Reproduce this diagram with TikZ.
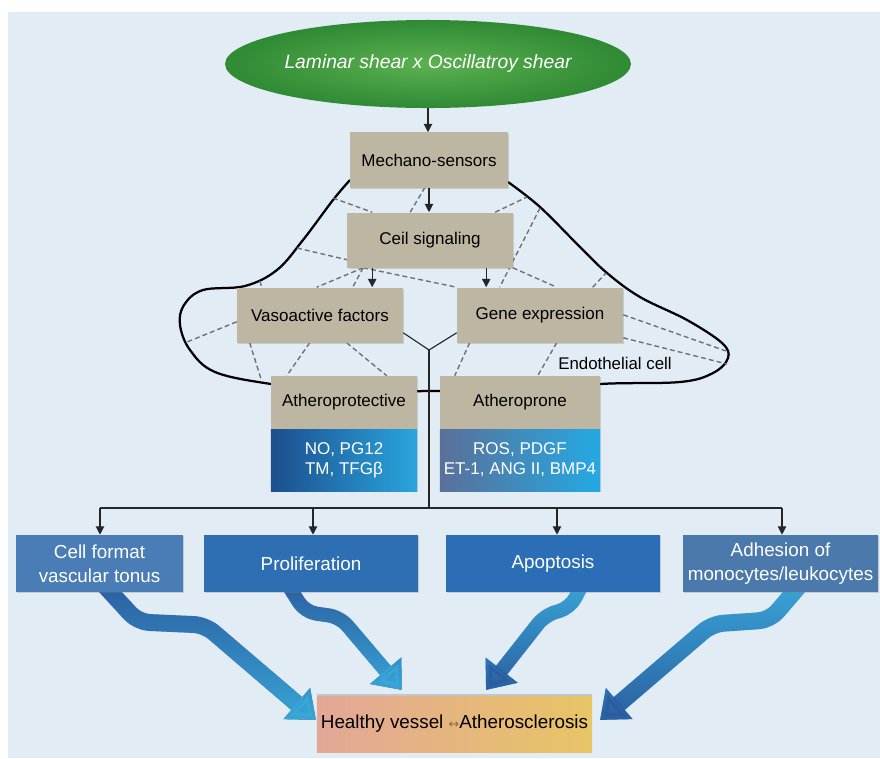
\documentclass[tikz,border=0pt]{standalone}
\usepackage{fontspec}
\setmainfont{Liberation Sans}
\newfontfamily\arrowfont{DejaVu Sans}
\usetikzlibrary{shapes.geometric,arrows.meta,calc,fadings,shadows}
\definecolor{panelblue}{HTML}{E2ECF5}
\definecolor{tanfill}{HTML}{BDB6A3}
\definecolor{greenin}{HTML}{5CB150}
\definecolor{greenout}{HTML}{2F8A34}
\definecolor{protl}{HTML}{1C4F8E}
\definecolor{protr}{HTML}{2AA5DD}
\definecolor{pronel}{HTML}{5A7099}
\definecolor{proner}{HTML}{24A9E3}
\definecolor{cellfc}{HTML}{4A7DB5}
\definecolor{prolifc}{HTML}{2E6FB3}
\definecolor{apopc}{HTML}{2C6EB6}
\definecolor{adhc}{HTML}{4B79AC}
\definecolor{vesl}{HTML}{E3A797}
\definecolor{vesr}{HTML}{E8C565}
\definecolor{arrdark}{HTML}{2B5B9E}
\definecolor{arrlight}{HTML}{39A9DA}
\definecolor{dashgray}{HTML}{6E7276}
\definecolor{arrbrown}{HTML}{9A6A40}
\pgfdeclarelayer{bottom}
\pgfdeclarelayer{lines}
\pgfsetlayers{bottom,lines,main}
\begin{document}
\begin{tikzpicture}[x=0.025cm,y=-0.025cm,
  tanbox/.style={fill=tanfill,inner sep=0pt,minimum height=1.375cm,font=\fontsize{12.1}{14}\selectfont,
    drop shadow={opacity=.3,shadow xshift=1pt,shadow yshift=-1pt}},
  datbox/.style={inner sep=0pt,minimum height=1.55cm,align=center,text=white,font=\fontsize{12.1}{14.2}\selectfont,
    drop shadow={opacity=.3,shadow xshift=1pt,shadow yshift=-1pt}},
  effbox/.style={inner sep=0pt,minimum height=1.425cm,align=center,text=white,font=\fontsize{13.4}{17}\selectfont,
    drop shadow={opacity=.3,shadow xshift=1pt,shadow yshift=-1pt}},
  arr/.style={-{Triangle[width=6pt,length=6pt]},line width=.8pt,black!85},
  dashline/.style={dashgray,line width=1pt,dash pattern=on 3.5pt off 2.2pt},
  bigarr/.style={-{Triangle[width=28pt,length=18pt]},line width=12pt,rounded corners=8pt,line join=round}]
\useasboundingbox (0,0) rectangle (880,758);
\begin{pgfonlayer}{bottom}
\fill[white] (0,0) rectangle (880,758);
\fill[panelblue] (8,12) rectangle (880,758);
\end{pgfonlayer}

\node[ellipse,shade,inner color=greenin,outer color=greenout,minimum width=8.375cm,minimum height=2.2cm,inner sep=0pt,text=white,font=\fontsize{13.7}{16}\selectfont\itshape] (shear) at (428,64) {Laminar shear x Oscillatroy shear};
\node[tanbox,minimum width=3.95cm] (mech) at (429,160) {Mechano-sensors};
\node[tanbox,minimum width=4.125cm] (sig) at (430,240) {Ceil signaling};
\node[tanbox,minimum width=4.15cm] (vaso) at (320,315) {Vasoactive factors};
\node[tanbox,minimum width=4.15cm] (gene) at (540,315) {Gene expression};
\node[tanbox,minimum width=3.65cm,minimum height=1.325cm] (prot) at (344,402.5) {Atheroprotective};
\node[datbox,left color=protl,right color=protr,minimum width=3.65cm] (protd) at (344,460) {NO, PG12\\TM, TFGβ};
\node[tanbox,minimum width=4cm,minimum height=1.325cm] (prone) at (520,402.5) {Atheroprone};
\node[datbox,left color=pronel,right color=proner,minimum width=4cm] (proned) at (520,460) {ROS, PDGF\\ET-1, ANG II, BMP4};
\node[font=\fontsize{12}{14}\selectfont] (endo) at (615,363) {Endothelial cell};

\node[effbox,fill=cellfc,minimum width=4.175cm] (cellf) at (99.5,563.5) {Cell format\\vascular tonus};
\node[effbox,fill=prolifc,minimum width=5.35cm] (prolif) at (311,563.5) {Proliferation};
\node[effbox,fill=apopc,minimum width=5.35cm] (apop) at (553,563.5) {Apoptosis};
\node[effbox,fill=adhc,minimum width=4.875cm] (adh) at (780.5,563.5) {Adhesion of\\monocytes/leukocytes};
\node[left color=vesl,right color=vesr,minimum width=6.875cm,minimum height=1.4cm,inner sep=0pt,font=\fontsize{13.4}{16}\selectfont,
  drop shadow={opacity=.35,shadow xshift=0pt,shadow yshift=1.5pt}] (vessel) at (454.5,724) {Healthy vessel {\arrowfont\fontsize{9}{10}\selectfont\color{arrbrown}↔}Atherosclerosis};

\begin{pgfonlayer}{lines}
% cell outline
\draw[line width=1.6pt] plot[smooth,tension=.6] coordinates {(350,180) (333,200) (303,240) (277,270) (245,286) (203,290) (184,305) (180,325) (190,350) (215,372) (271,384) (350,393) (429,391) (520,392) (600,384) (680,382) (713,373) (728,358) (722,343) (687,320) (640,297) (607,273) (580,247) (540,207) (508,182)};
\coordinate (o1) at (333,198);
\coordinate (o2) at (527,197);
\coordinate (o3) at (540,208);
\coordinate (o4) at (297,248);
\coordinate (o5) at (606,273);
\coordinate (o6) at (260,281);
\coordinate (o7) at (187,342);
\coordinate (o8) at (262,382);
\coordinate (o9) at (726,351);
\coordinate (o10) at (727,364);
\draw[dashline] (o1) -- ($(sig.north west)+(25,0)$);
\draw[dashline] ($(sig.north west)+(63,0)$) -- ($(mech.south west)+(75,0)$);
\draw[dashline] ($(sig.north west)+(148,0)$) -- (o2);
\draw[dashline] (o3) -- ($(gene.north west)+(43,0)$);
\draw[dashline] (o4) -- ($(sig.south west)+(0,-8)$);
\draw[dashline] ($(sig.south west)+(16,0)$) -- ($(vaso.north west)+(80,0)$);
\draw[dashline] ($(sig.south west)+(16,0)$) -- ($(vaso.north west)+(116,0)$);
\draw[dashline] ($(sig.south west)+(16,0)$) -- (gene.north west);
\draw[dashline] (sig.south east) -- ($(gene.north west)+(100,0)$);
\draw[dashline] ($(gene.north west)+(136,0)$) -- (o5);
\draw[dashline] (o6) -- ($(vaso.north west)+(25,0)$);
\draw[dashline] ($(vaso.south west)+(0,-21)$) -- (o7);
\draw[dashline] ($(vaso.south west)+(13,0)$) -- (o8);
\draw[dashline] ($(vaso.south west)+(73,0)$) -- ($(prot.north west)+(16,0)$);
\draw[dashline] ($(vaso.south west)+(110,0)$) -- ($(prot.north west)+(116,0)$);
\draw[dashline] ($(gene.south west)+(13,0)$) -- ($(prone.north west)+(15,0)$);
\draw[dashline] ($(gene.south west)+(100,0)$) -- ($(prone.north west)+(98,0)$);
\draw[dashline] ($(gene.south east)+(0,-28)$) -- (o9);
\draw[dashline] ($(gene.south east)+(0,-5)$) -- (o10);

% big arrows
\draw[bigarr,arrdark] (104,585) -- (138,622) -- (205,625) -- (316,720);
\draw[bigarr,arrlight,path fading=north] (104,585) -- (138,622) -- (205,625) -- (316,720);
\draw[bigarr,line width=10pt,arrdark] (288,585) -- (305,612) -- (340,617) -- (402,690);
\draw[bigarr,line width=10pt,arrlight,path fading=north] (288,585) -- (305,612) -- (340,617) -- (402,690);
\draw[bigarr,line width=10pt,arrlight] (582,585) -- (570,608) -- (545,615) -- (486,690);
\draw[bigarr,line width=10pt,arrdark,path fading=north] (582,585) -- (570,608) -- (545,615) -- (486,690);
\draw[bigarr,arrlight] (800,585) -- (770,620) -- (712,624) -- (600,720);
\draw[bigarr,arrdark,path fading=north] (800,585) -- (770,620) -- (712,624) -- (600,720);
\end{pgfonlayer}

\draw[arr] (shear.south) -- (shear.south |- mech.north);
\draw[arr] (mech.south) -- (mech.south |- sig.north);
\coordinate (a1) at ($(sig.south west)+(25,0)$);
\coordinate (a2) at ($(sig.south west)+(139,0)$);
\draw[arr] (a1) -- (a1 |- vaso.north);
\draw[arr] (a2) -- (a2 |- gene.north);
\coordinate (hub) at (429,350);
\draw[line width=.8pt,black!85] ($(vaso.south east)+(0,-10)$) -- (hub) -- ($(gene.south west)+(0,-10)$);
\coordinate (b1) at (100,508);
\coordinate (b2) at (313,508);
\coordinate (b3) at (557,508);
\coordinate (b4) at (782,508);
\draw[line width=.8pt,black!85] (hub) -- (hub |- b1);
\draw[line width=.8pt,black!85] (b1) -- (b4);
\draw[arr] (b1) -- (b1 |- cellf.north);
\draw[arr] (b2) -- (b2 |- prolif.north);
\draw[arr] (b3) -- (b3 |- apop.north);
\draw[arr] (b4) -- (b4 |- adh.north);
\end{tikzpicture}
\end{document}
